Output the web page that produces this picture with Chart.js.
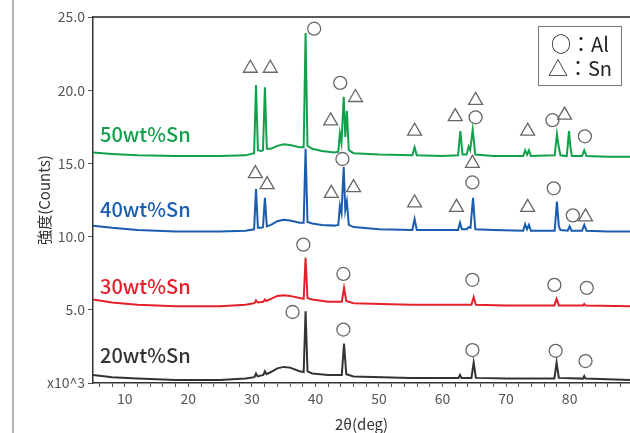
<!DOCTYPE html>
<html>
<head>
<meta charset="utf-8">
<script src="https://cdn.jsdelivr.net/npm/chart.js@4.4.1/dist/chart.umd.min.js"></script>
<style>
html, body { margin: 0; padding: 0; background: #fff; }
#wrap { position: relative; width: 630px; height: 433px; overflow: hidden; }
#edge { position: absolute; left: 12px; top: 0; width: 2px; height: 433px; background: #b4b4b4; }
#key {
    position: absolute; left: 538px; top: 26px; width: 84px; height: 60px;
    border: 1.5px solid #777; box-sizing: border-box; padding-top: 5px;
    font-family: "Noto Sans CJK JP", "Noto Sans"; font-size: 20px; line-height: 24px;
    color: #222; text-align: center;
}
canvas { position: absolute; left: 0; top: 0; }
</style>
</head>
<body>
<div id="wrap">
    <div id="edge"></div>
    <canvas id="chart" width="630" height="433"></canvas>
    <div id="key">○：Al<br>△：Sn</div>
</div>
<script>
// ─── DATA (2θ in deg, intensity in x10^3 counts) ─────────────
const theta50  = [5, 8, 12, 18, 25, 29, 30.35, 30.65, 30.95, 31.5, 31.75, 32.05, 32.35, 33, 34, 35, 36, 37.5, 38.15, 38.45, 38.75, 39.5, 41, 43,
                  43.6, 43.85, 44.1, 44.45, 44.7, 44.95, 45.25, 46, 50, 55.25, 55.6, 55.95, 60, 62.45, 62.8, 63.15, 63.8, 64.1, 64.35, 64.75, 65.15,
                  68, 72.7, 73.0, 73.3, 73.6, 73.9, 77.65, 78.0, 78.3, 78.55, 79.55, 79.9, 80.1, 80.35, 81.95, 82.3, 82.65, 86, 89.5];
const counts50 = [15.75, 15.65, 15.55, 15.5, 15.5, 15.55, 15.7, 20.35, 15.9, 15.85, 15.9, 20.2, 16.0, 16.0, 16.2, 16.3, 16.25, 16.1, 16.1, 23.9, 16.2, 16.0, 15.85, 15.75,
                  15.8, 17.05, 16.4, 19.55, 16.8, 18.6, 15.9, 15.7, 15.6, 15.55, 16.1, 15.55, 15.5, 15.55, 17.2, 15.6, 15.6, 16.15, 15.9, 17.3, 15.6,
                  15.5, 15.5, 15.9, 15.6, 15.9, 15.5, 15.55, 17.0, 16.1, 15.55, 15.5, 17.2, 16.2, 15.5, 15.5, 15.9, 15.5, 15.45, 15.45];

const theta40  = [5, 8, 12, 18, 25, 29, 30.35, 30.65, 30.95, 31.5, 31.75, 32.05, 32.35, 33, 34, 35, 36, 37.5, 38.15, 38.45, 38.75, 39.5, 41, 43,
                  43.6, 43.85, 44.1, 44.45, 44.7, 44.95, 45.25, 46, 50, 55.25, 55.6, 55.95, 60, 62.45, 62.75, 63.05, 63.8, 64.1, 64.4, 64.8, 65.15,
                  68, 72.7, 73.0, 73.3, 73.6, 73.9, 77.65, 78.0, 78.3, 78.55, 79.7, 80.0, 80.3, 81.95, 82.3, 82.65, 86, 89.5];
const counts40 = [10.75, 10.6, 10.45, 10.35, 10.35, 10.4, 10.5, 13.25, 10.6, 10.6, 10.65, 12.65, 10.7, 10.8, 11.05, 11.15, 11.1, 10.95, 10.95, 16.0, 11.0, 10.9, 10.8, 10.75,
                  10.8, 12.1, 11.6, 14.75, 11.8, 12.4, 10.8, 10.65, 10.5, 10.45, 11.2, 10.45, 10.45, 10.45, 10.95, 10.5, 10.5, 10.65, 10.6, 12.65, 10.5,
                  10.45, 10.4, 10.85, 10.5, 10.8, 10.4, 10.4, 12.4, 10.7, 10.45, 10.4, 10.7, 10.4, 10.4, 10.8, 10.4, 10.35, 10.35];

const theta30  = [5, 8, 12, 18, 25, 29, 30.4, 30.65, 30.9, 31.8, 32.05, 32.3, 33, 34, 35, 36, 37.5, 38.15, 38.45, 38.75, 39.5, 42,
                  44.15, 44.5, 44.85, 46, 55, 64.55, 64.9, 65.25, 70, 77.6, 77.95, 78.3, 82.1, 82.3, 82.5, 89.5];
const counts30 = [5.7, 5.5, 5.35, 5.25, 5.25, 5.35, 5.45, 5.65, 5.5, 5.55, 5.7, 5.6, 5.75, 5.95, 6.0, 5.95, 5.8, 5.75, 8.55, 5.8, 5.7, 5.55,
                  5.55, 6.5, 5.6, 5.45, 5.35, 5.35, 5.87, 5.35, 5.3, 5.3, 5.75, 5.3, 5.3, 5.4, 5.3, 5.25];

const theta20  = [5, 8, 12, 18, 25, 29, 30.4, 30.65, 30.9, 31.8, 32.05, 32.3, 33, 34, 35, 36, 37.5, 38.15, 38.45, 38.75, 39.5, 42,
                  44.15, 44.5, 44.85, 46, 55, 62.5, 62.75, 63.0, 64.55, 64.9, 65.25, 70, 77.6, 77.95, 78.3, 82.1, 82.3, 82.5, 89.5];
const counts20 = [0.55, 0.4, 0.3, 0.2, 0.2, 0.3, 0.4, 0.65, 0.45, 0.55, 0.8, 0.6, 0.75, 1.0, 1.1, 1.05, 0.8, 0.75, 4.9, 0.8, 0.65, 0.55,
                  0.55, 2.7, 0.6, 0.45, 0.35, 0.35, 0.55, 0.35, 0.35, 1.4, 0.35, 0.3, 0.3, 1.4, 0.35, 0.3, 0.48, 0.3, 0.2];

// peak markers (○ = Al, △ = Sn)
const alMarkX = [39.8, 43.9, 65.2, 77.3, 82.4, 44.25, 64.7, 77.5, 80.5, 38.1, 44.4, 64.7, 77.6, 82.7, 36.4, 44.4, 64.7, 77.8, 82.5];
const alMarkY = [24.2, 20.5, 18.15, 17.95, 16.85, 15.3, 13.7, 13.3, 11.45, 9.45, 7.45, 7.05, 6.7, 6.5, 4.85, 3.65, 2.25, 2.2, 1.5];
const snMarkX = [29.76, 32.9, 46.3, 42.4, 55.6, 62.0, 65.2, 73.4, 79.2, 30.55, 32.4, 42.5, 46.0, 55.6, 62.2, 64.7, 73.4, 82.5];
const snMarkY = [21.5, 21.5, 19.5, 17.9, 17.2, 18.2, 19.3, 17.2, 18.3, 14.3, 13.55, 12.95, 13.35, 12.3, 12.0, 15.0, 12.0, 11.35];

const seriesNames  = ["50wt%Sn", "40wt%Sn", "30wt%Sn", "20wt%Sn"];
const seriesColors = ["#12a14b", "#1a5cb0", "#e6202b", "#333333"];
const nameX = 6.1;
const nameY = [17.0, 11.85, 6.6, 1.9];

const yTicks = [0, 5, 10, 15, 20, 25];

// ─── HELPERS ──────────────────────────────────────────────────
function pairs(xs, ys) {
    return xs.map((v, i) => ({ x: v, y: ys[i] }));
}

function lineSet(xs, ys, color) {
    return {
        type: "line",
        data: pairs(xs, ys),
        borderColor: color,
        borderWidth: 2,
        pointRadius: 0,
        tension: 0,
        fill: false
    };
}

function markSet(xs, ys, style, r) {
    return {
        type: "scatter",
        data: pairs(xs, ys),
        pointStyle: style,
        pointRadius: r,
        borderColor: "#666",
        backgroundColor: "rgba(255,255,255,0)",
        borderWidth: 1.3
    };
}

// series names + top frame line
const overlay = {
    id: "overlay",
    afterDatasetsDraw(chart) {
        const { ctx, chartArea, scales: { x, y } } = chart;
        ctx.save();
        ctx.strokeStyle = "#222";
        ctx.lineWidth = 1.5;
        ctx.beginPath();
        ctx.moveTo(chartArea.left, chartArea.top);
        ctx.lineTo(630, chartArea.top);
        ctx.stroke();

        ctx.font = '500 20px "Noto Sans CJK JP"';
        ctx.textBaseline = "middle";
        seriesNames.forEach((n, i) => {
            ctx.fillStyle = seriesColors[i];
            ctx.fillText(n, x.getPixelForValue(nameX), y.getPixelForValue(nameY[i]));
        });
        ctx.restore();
    }
};

// ─── CHART ────────────────────────────────────────────────────
const tickFont = { family: "Noto Sans CJK JP", size: 14 };

new Chart(document.getElementById("chart"), {
    data: {
        datasets: [
            markSet(alMarkX, alMarkY, "circle", 6.5),
            markSet(snMarkX, snMarkY, "triangle", 8),
            lineSet(theta50, counts50, seriesColors[0]),
            lineSet(theta40, counts40, seriesColors[1]),
            lineSet(theta30, counts30, seriesColors[2]),
            lineSet(theta20, counts20, seriesColors[3])
        ]
    },
    options: {
        responsive: false,
        animation: false,
        devicePixelRatio: 1,
        layout: { autoPadding: false, padding: { top: 17, right: 0, left: 0, bottom: 0 } },
        plugins: { legend: { display: false }, tooltip: { enabled: false } },
        scales: {
            x: {
                type: "linear",
                min: 5,
                max: 89.5,
                afterFit: s => { s.height = 50; s.paddingLeft = 0; s.paddingRight = 0; },
                afterBuildTicks: s => {
                    const t = [];
                    for (let v = 6; v <= 88; v += 2) t.push({ value: v });
                    s.ticks = t;
                },
                ticks: {
                    color: "#555",
                    font: tickFont,
                    padding: 3,
                    maxRotation: 0,
                    autoSkip: false,
                    callback: v => (v % 10 === 0 ? String(v) : "")
                },
                grid: { drawOnChartArea: false, tickLength: 4, color: "#555", lineWidth: 1 },
                border: { color: "#333", width: 1.5 },
                title: {
                    display: true,
                    text: "2θ(deg)",
                    color: "#333",
                    font: { family: "Noto Sans CJK JP", size: 15 },
                    padding: { top: 0, bottom: 0 }
                }
            },
            y: {
                min: 0,
                max: 25,
                afterFit: s => { s.width = 93; },
                afterBuildTicks: s => { s.ticks = yTicks.map(v => ({ value: v })); },
                ticks: {
                    color: "#555",
                    font: tickFont,
                    padding: 3,
                    callback: v => (v === 0 ? "x10^3" : v.toFixed(1))
                },
                grid: { drawOnChartArea: false, tickLength: 5, color: "#555", lineWidth: 1 },
                border: { color: "#333", width: 1.5 },
                title: {
                    display: true,
                    text: "強度(Counts)",
                    color: "#333",
                    font: { family: "Noto Sans CJK JP", size: 15 },
                    padding: { top: 35, bottom: 0 }
                }
            }
        }
    },
    plugins: [overlay]
});
</script>
</body>
</html>
